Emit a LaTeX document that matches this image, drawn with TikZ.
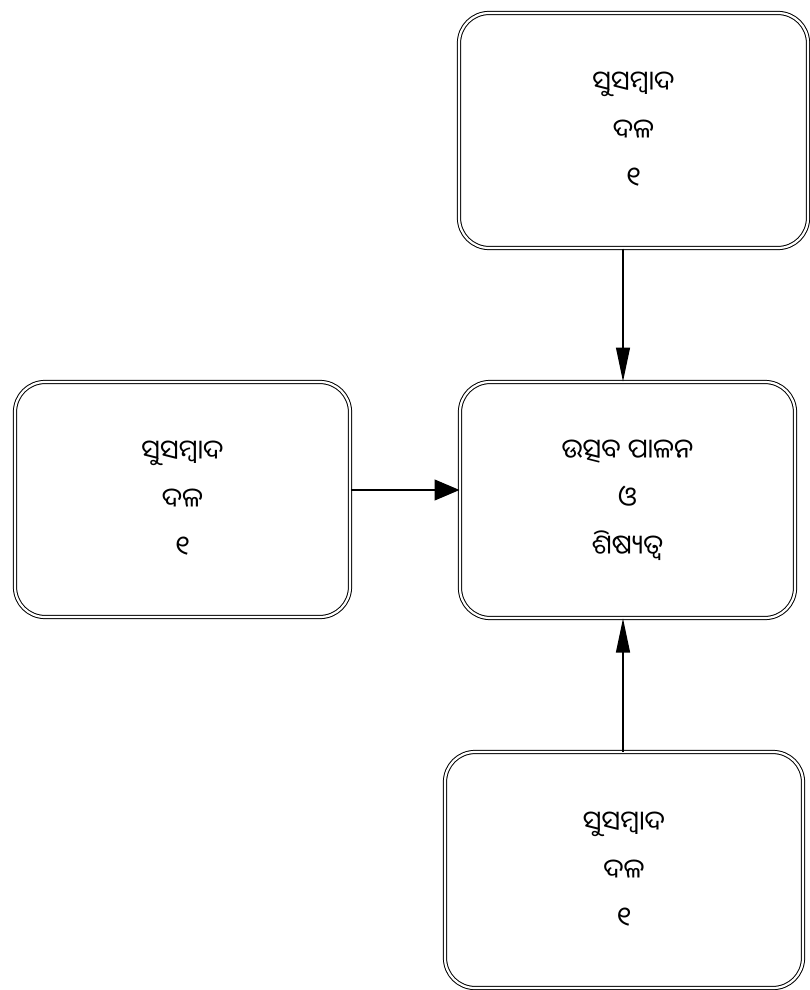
\documentclass[tikz,border=0pt]{standalone}
\usepackage{fontspec}
\newfontfamily\oriya[Script=Oriya]{Noto Sans Oriya UI}
\usetikzlibrary{arrows.meta}
\begin{document}
\begin{tikzpicture}[x=1pt,y=-1pt,
  box/.style={draw, double, double distance=2.2pt, line width=1pt,
    rounded corners=30pt, align=center, inner sep=0pt,
    font=\oriya\fontsize{27}{48}\selectfont},
  varr/.style={-{Triangle[length=34pt,width=14pt]}, line width=1.2pt},
  harr/.style={-{Triangle[length=25pt,width=21pt]}, line width=1.2pt}]
\useasboundingbox (0,0) rectangle (810,990);
\node[box, minimum width=349pt, minimum height=235pt] (top) at (633.5,130.5) {ସୁସମ୍ବାଦ\\ଦଳ\\୧};
\node[box, minimum width=335pt, minimum height=236pt] (mid) at (627.5,500) {ଉତ୍ସବ ପାଳନ\\ଓ\\ଶିଷ୍ୟତ୍ୱ};
\node[box, minimum width=335pt, minimum height=235pt] (left) at (182.5,499.5) {ସୁସମ୍ବାଦ\\ଦଳ\\୧};
\node[box, minimum width=358pt, minimum height=236pt] (bot) at (624,870) {ସୁସମ୍ବାଦ\\ଦଳ\\୧};
\draw[varr] (top.south -| 623,0) -- (mid.north -| 623,0);
\draw[varr] (bot.north -| 623,0) -- (mid.south -| 623,0);
\draw[harr] (left.east |- 0,490) -- (mid.west |- 0,490);
\end{tikzpicture}
\end{document}
